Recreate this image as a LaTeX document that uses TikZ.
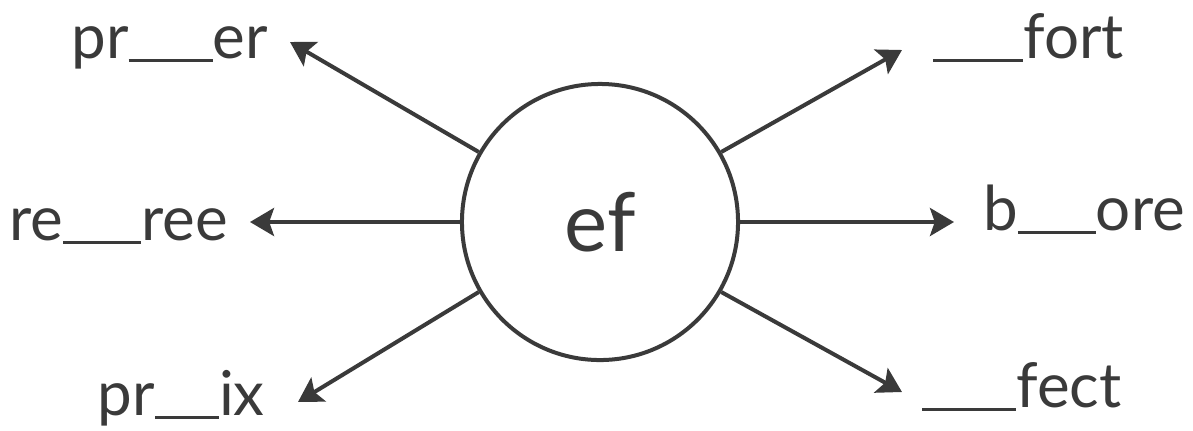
\documentclass[tikz,border=0pt]{standalone}
\usepackage{fontspec}
\setmainfont{Lato}
\usetikzlibrary{positioning, arrows.meta}
\definecolor{ink}{HTML}{3A3A3A}
\newcommand{\blank}[1]{\rule[-0.1cm]{#1}{0.07cm}}

\begin{document}
\begin{tikzpicture}[
    x=0.025cm, y=-0.025cm,
    hub/.style={circle, draw=ink, line width=0.1cm, minimum size=6.9cm, inner sep=0pt, text=ink, font=\fontsize{58}{62}\selectfont},
    word/.style={inner sep=0pt, text=ink, font=\fontsize{44}{50}\selectfont},
    arr/.style={-{Stealth[length=0.6cm, width=0.7cm, inset=0.12cm]}, line width=0.1cm, draw=ink}
]
    \useasboundingbox (0,0) rectangle (1193,430);

    \node[hub] (ef) at (600,222) {ef};

    % tips of the arrows
    \coordinate (tpre)  at (290,42);
    \coordinate (tref)  at (250,222);
    \coordinate (tpri)  at (298,402);
    \coordinate (tfort) at (902,50);
    \coordinate (tbef)  at (954,222);
    \coordinate (tfect) at (902,392);

    \draw[arr] (ef.150) -- (tpre);
    \draw[arr] (ef.180) -- (tref);
    \draw[arr] (ef.210) -- (tpri);
    \draw[arr] (ef.30)  -- (tfort);
    \draw[arr] (ef.0)   -- (tbef);
    \draw[arr] (ef.-30) -- (tfect);

    % words with gaps
    \node[word, anchor=base east] (pre)  at (268,58)  {pr\blank{2.1cm}er};
    \node[word, anchor=base east] (ref)  at (228,240) {re\blank{1.95cm}ree};
    \node[word, anchor=base east] (pri)  at (265,415) {pr\blank{1.6cm}ix};
    \node[word, anchor=base west] (fort) at (933,58)  {\blank{2.25cm}fort};
    \node[word, anchor=base west] (bef)  at (983,230) {b\blank{1.95cm}ore};
    \node[word, anchor=base west] (fect) at (922,407) {\blank{2.35cm}fect};
\end{tikzpicture}
\end{document}
